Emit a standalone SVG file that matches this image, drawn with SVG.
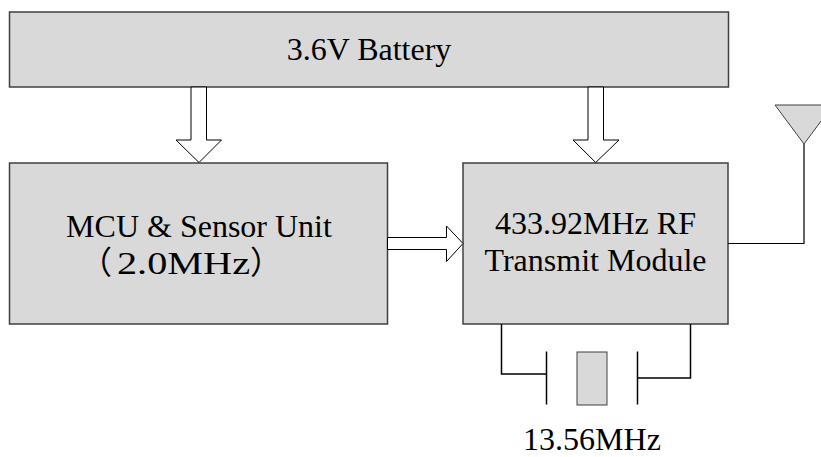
<svg xmlns="http://www.w3.org/2000/svg" width="821" height="457" viewBox="0 0 821 457">
<style>
.box{fill:#d9d9d9;stroke:#404040;stroke-width:1.5}
.arr{fill:#ffffff;stroke:#000000;stroke-width:1}
.wire{fill:none;stroke:#000000;stroke-width:1.5}
.lbl{font-family:'Liberation Serif','Times New Roman',Times,'Noto Sans CJK SC',serif;font-size:32px;fill:#000000;text-anchor:middle}
</style>
<rect width="821" height="457" fill="#ffffff"/>
<g id="battery">
<rect class="box" x="9.5" y="12" width="719" height="75"/>
<text class="lbl" x="369" y="60">3.6V Battery</text>
</g>
<g id="mcu">
<rect class="box" x="9.5" y="163" width="378" height="161"/>
<text class="lbl" x="199" y="237">MCU &amp; Sensor Unit</text>
<text class="lbl" y="274" style="text-anchor:start"><tspan x="80">（</tspan><tspan x="117" textLength="133" lengthAdjust="spacingAndGlyphs">2.0MHz</tspan><tspan x="250">）</tspan></text>
</g>
<g id="rf">
<rect class="box" x="463" y="163" width="265" height="161"/>
<text class="lbl" x="595.5" y="234">433.92MHz RF</text>
<text class="lbl" x="595.5" y="271">Transmit Module</text>
</g>
<g id="antenna">
<polygon class="box" points="775,105 833,105 804,144" style="stroke-width:1"/>
</g>
<g id="crystal">
<line class="wire" x1="546.5" y1="351.5" x2="546.5" y2="404.5"/>
<rect class="box" x="577" y="352" width="30" height="53" style="stroke-width:1"/>
<line class="wire" x1="637.5" y1="351.5" x2="637.5" y2="404.5"/>
<text class="lbl" x="592" y="450">13.56MHz</text>
</g>
<g id="connectors">
<polygon class="arr" points="191,87 206.5,87 206.5,140 221.5,140 199,162.5 176,140 191,140"/>
<polygon class="arr" points="588,87 603.5,87 603.5,140 619,140 595.7,162.5 573,140 588,140"/>
<polygon class="arr" points="387.5,237.5 446.5,237.5 446.5,226 463,243.5 446.5,261.5 446.5,249.5 387.5,249.5"/>
<polyline class="wire" points="804,144 804,243.5 728,243.5" style="stroke-width:1.2"/>
<polyline class="wire" points="501.5,324 501.5,374 546.5,374"/>
<polyline class="wire" points="637.5,378 690.5,378 690.5,324"/>
</g>
</svg>
